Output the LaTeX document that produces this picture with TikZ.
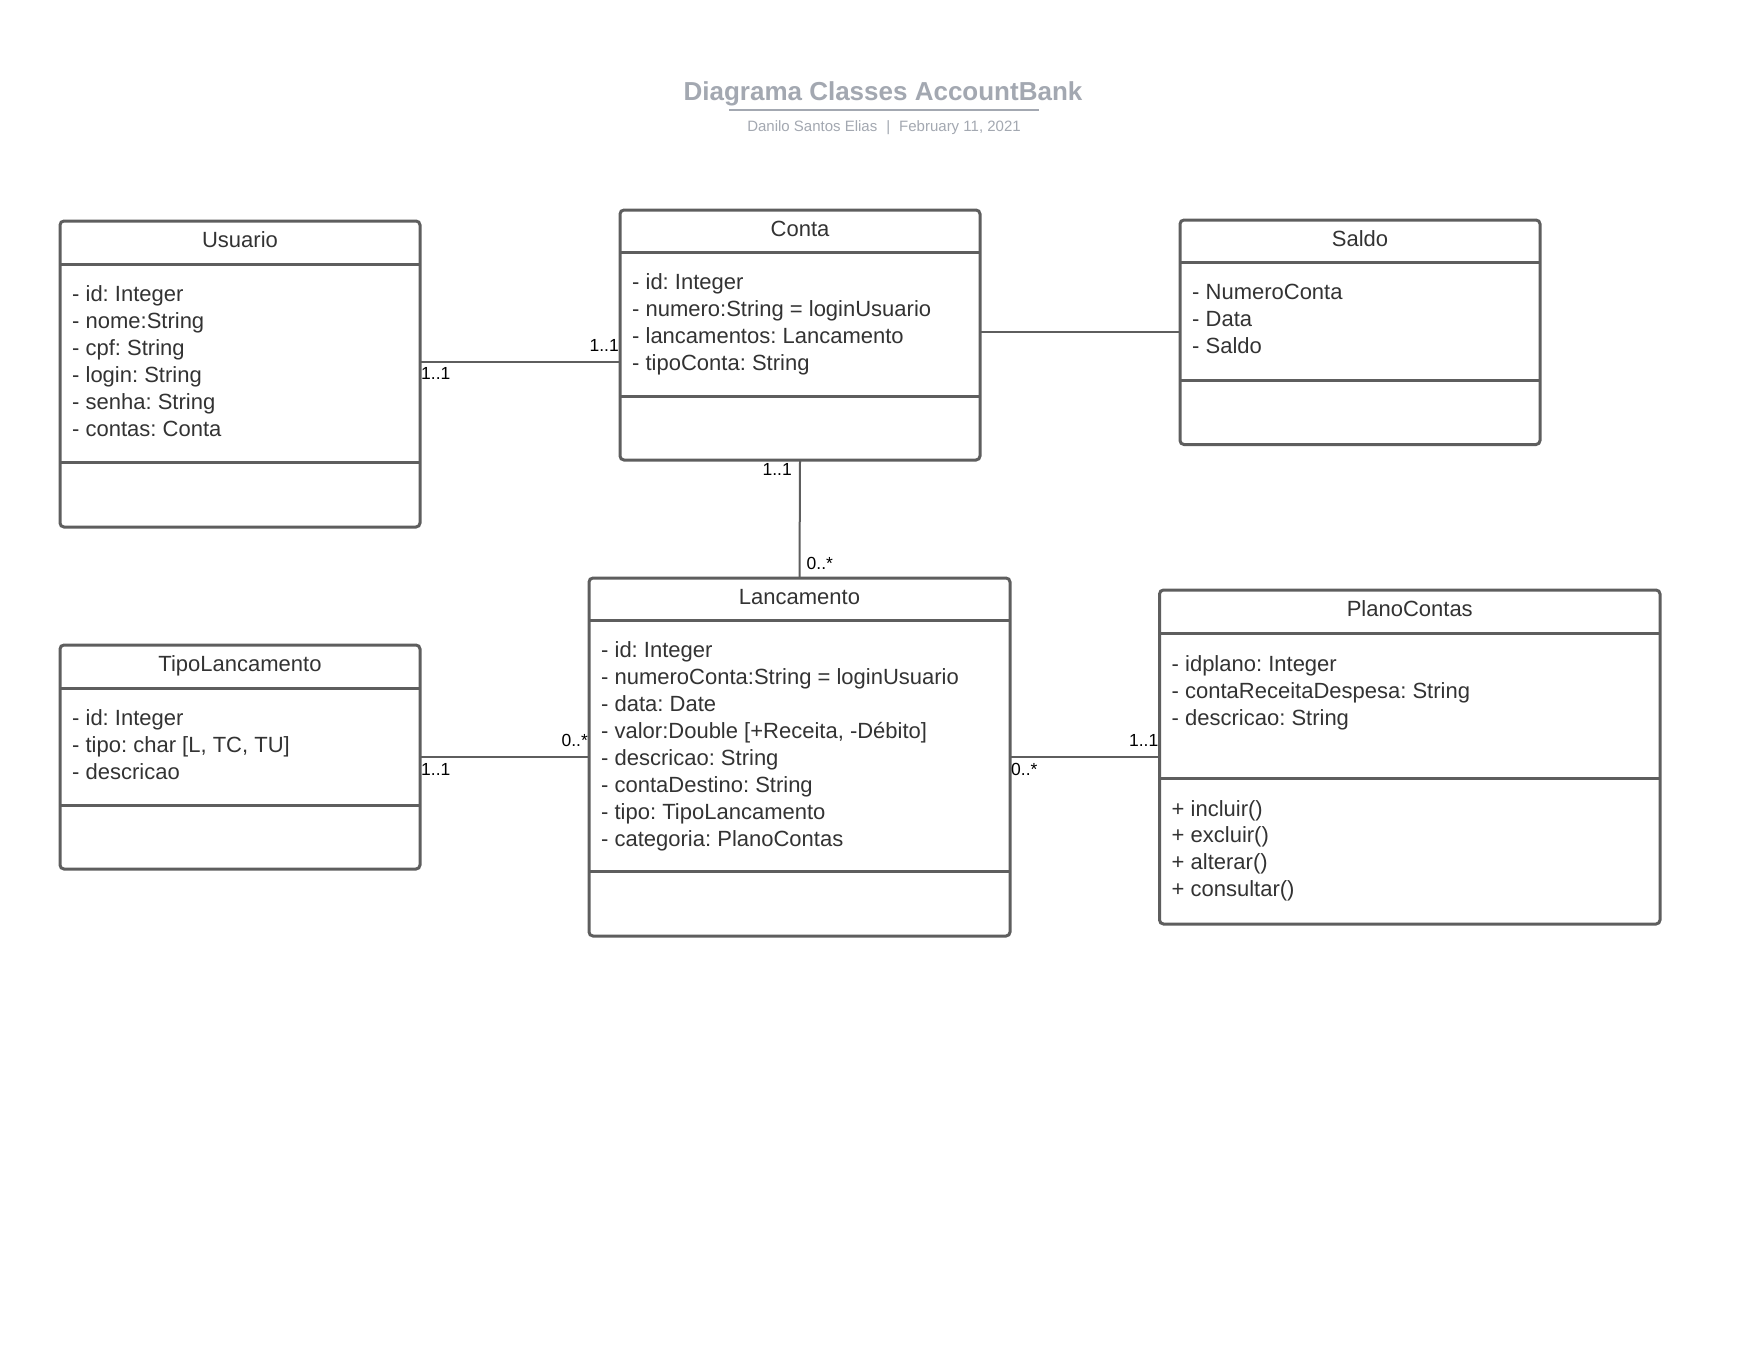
\documentclass[tikz,border=0pt]{standalone}
\usepackage{fontspec}
\setmainfont{Liberation Sans}
\frenchspacing
\usetikzlibrary{positioning, calc}
\definecolor{Stroke}{HTML}{5E5E5E}
\definecolor{Ink}{HTML}{333333}
\definecolor{Muted}{HTML}{A3A8B1}
\tikzset{
    classbox/.style={rectangle, draw=Stroke, line width=3pt, rounded corners=4pt, outer sep=0pt, inner sep=0pt, anchor=north west},
    sepline/.style={draw=Stroke, line width=3pt},
    classname/.style={font=\fontsize{22}{27}\selectfont, text=Ink, anchor=base, inner sep=0pt},
    attr/.style={font=\fontsize{22}{27}\selectfont, text=Ink, anchor=base west, inner sep=0pt},
    assoc/.style={draw=Stroke, line width=2pt},
    mult/.style={font=\fontsize{17.5}{21}\selectfont, text=black, inner sep=0pt},
}

\begin{document}
\begin{tikzpicture}[x=1pt, y=-1pt]
    \useasboundingbox[fill=white] (0,0) rectangle (1760,1360);

    % Titulo
    \node[font=\fontsize{26}{30}\selectfont\bfseries, text=Muted, anchor=base] (titulo) at (883,100) {Diagrama Classes AccountBank};
    \draw[Muted, line width=2pt] (729,110) -- (1039,110);
    \node[font=\fontsize{15}{18}\selectfont, text=Muted, anchor=base] (autor) at (884,131) {Danilo Santos Elias\hspace{0.6em}|\hspace{0.6em}February 11, 2021};

    % Usuario
    \node[classbox, minimum width=360pt, minimum height=306pt] (usuario) at (60,221) {};
    \draw[sepline] ($(usuario.north west)+(0,43.5)$) -- ($(usuario.north east)+(0,43.5)$);
    \draw[sepline] ($(usuario.north west)+(0,241)$) -- ($(usuario.north east)+(0,241)$);
    \node[classname] (usuario-nome) at ($(usuario.north)+(0,26)$) {Usuario};
    \foreach \t [count=\i] in {- id: Integer, - nome:String, - cpf: String, - login: String, - senha: String, - contas: Conta}
        \node[attr] (usuario-a\i) at ($(usuario.north west)+(12,{80.5+26.94*(\i-1)})$) {\t};

    % Conta
    \node[classbox, minimum width=360pt, minimum height=250pt] (conta) at (620,210) {};
    \draw[sepline] ($(conta.north west)+(0,42.5)$) -- ($(conta.north east)+(0,42.5)$);
    \draw[sepline] ($(conta.north west)+(0,186)$) -- ($(conta.north east)+(0,186)$);
    \node[classname] (conta-nome) at ($(conta.north)+(0,26)$) {Conta};
    \foreach \t [count=\i] in {- id: Integer, - numero:String = loginUsuario, - lancamentos: Lancamento, - tipoConta: String}
        \node[attr] (conta-a\i) at ($(conta.north west)+(12,{79.5+26.94*(\i-1)})$) {\t};

    % Saldo
    \node[classbox, minimum width=360pt, minimum height=224.5pt] (saldo) at (1180,220) {};
    \draw[sepline] ($(saldo.north west)+(0,42.6)$) -- ($(saldo.north east)+(0,42.6)$);
    \draw[sepline] ($(saldo.north west)+(0,160.5)$) -- ($(saldo.north east)+(0,160.5)$);
    \node[classname] (saldo-nome) at ($(saldo.north)+(0,26)$) {Saldo};
    \foreach \t [count=\i] in {- NumeroConta, - Data, - Saldo}
        \node[attr] (saldo-a\i) at ($(saldo.north west)+(12,{79.8+26.94*(\i-1)})$) {\t};

    % Lancamento
    \node[classbox, minimum width=421pt, minimum height=358pt] (lanc) at (589,578) {};
    \draw[sepline] ($(lanc.north west)+(0,42.7)$) -- ($(lanc.north east)+(0,42.7)$);
    \draw[sepline] ($(lanc.north west)+(0,293)$) -- ($(lanc.north east)+(0,293)$);
    \node[classname] (lanc-nome) at ($(lanc.north)+(0,26)$) {Lancamento};
    \foreach \t [count=\i] in {- id: Integer, - numeroConta:String = loginUsuario, - data: Date, {- valor:Double [+Receita, -Débito]}, - descricao: String, - contaDestino: String, - tipo: TipoLancamento, - categoria: PlanoContas}
        \node[attr] (lanc-a\i) at ($(lanc.north west)+(12,{79.9+26.94*(\i-1)})$) {\t};

    % TipoLancamento
    \node[classbox, minimum width=360pt, minimum height=224pt] (tipo) at (60,645) {};
    \draw[sepline] ($(tipo.north west)+(0,43)$) -- ($(tipo.north east)+(0,43)$);
    \draw[sepline] ($(tipo.north west)+(0,160)$) -- ($(tipo.north east)+(0,160)$);
    \node[classname] (tipo-nome) at ($(tipo.north)+(0,26.3)$) {TipoLancamento};
    \foreach \t [count=\i] in {- id: Integer, {- tipo: char [L, TC, TU]}, - descricao}
        \node[attr] (tipo-a\i) at ($(tipo.north west)+(12,{80.2+26.94*(\i-1)})$) {\t};

    % PlanoContas
    \node[classbox, minimum width=500.5pt, minimum height=334pt] (plano) at (1159.5,590) {};
    \draw[sepline] ($(plano.north west)+(0,43)$) -- ($(plano.north east)+(0,43)$);
    \draw[sepline] ($(plano.north west)+(0,188)$) -- ($(plano.north east)+(0,188)$);
    \node[classname] (plano-nome) at ($(plano.north)+(0,26.3)$) {PlanoContas};
    \foreach \t [count=\i] in {- idplano: Integer, - contaReceitaDespesa: String, - descricao: String}
        \node[attr] (plano-a\i) at ($(plano.north west)+(12,{81.3+26.94*(\i-1)})$) {\t};
    \foreach \t [count=\i] in {+ incluir(), + excluir(), + alterar(), + consultar()}
        \node[attr] (plano-m\i) at ($(plano.north west)+(12,{226+26.94*(\i-1)})$) {\t};

    % Associacoes
    \coordinate (uc) at (0,361.5);
    \coordinate (cs) at (0,332);
    \draw[assoc] (usuario.east |- uc) -- (conta.west |- uc);
    \draw[assoc] (conta.east |- cs) -- (saldo.west |- cs);
    \draw[assoc] (conta.south) -- (lanc.north);
    \draw[assoc] (tipo.east) -- (lanc.west);
    \draw[assoc] (lanc.east) -- (plano.west);

    % Multiplicidades
    \node[mult, anchor=north west] (m-usuario) at ($(usuario.east |- uc)+(1,6)$) {1..1};
    \node[mult, anchor=south east] (m-conta1) at ($(conta.west |- uc)+(-1,-10)$) {1..1};
    \node[mult, anchor=north east] (m-conta2) at ($(conta.south)+(-8,3)$) {1..1};
    \node[mult, anchor=south west] (m-lanc1) at ($(lanc.north)+(7,-8)$) {0..*};
    \node[mult, anchor=north west] (m-tipo) at ($(tipo.east)+(1,6)$) {1..1};
    \node[mult, anchor=south east] (m-lanc2) at ($(lanc.west)+(-1,-10)$) {0..*};
    \node[mult, anchor=north west] (m-lanc3) at ($(lanc.east)+(1,6)$) {0..*};
    \node[mult, anchor=south east] (m-plano) at ($(plano.west)+(-1,-10)$) {1..1};
\end{tikzpicture}
\end{document}
